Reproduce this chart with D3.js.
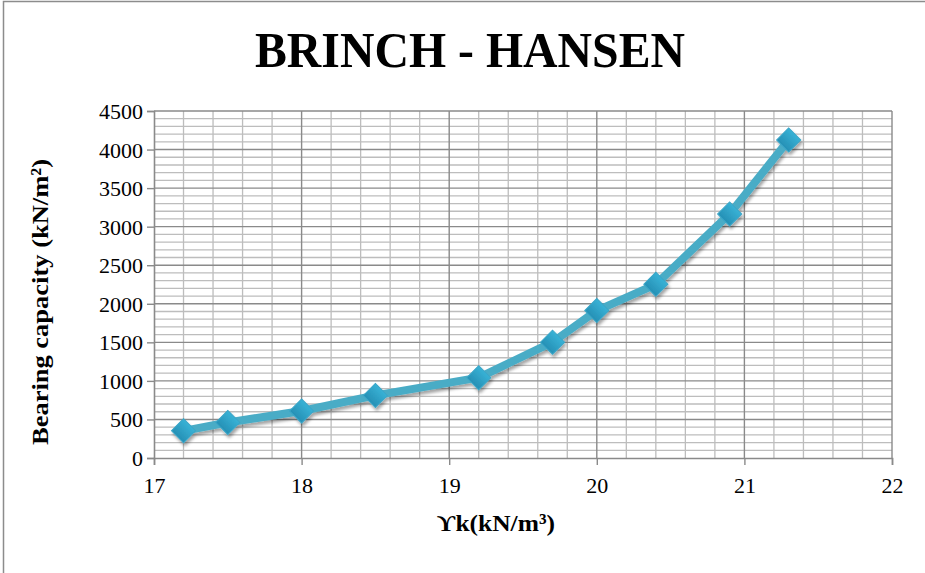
<!DOCTYPE html>
<html>
<head>
<meta charset="utf-8">
<script src="https://cdn.jsdelivr.net/npm/d3@7"></script>
<style>
  html, body { margin: 0; padding: 0; background: #fff; }
  svg { display: block; }
</style>
</head>
<body>
<svg id="chart" width="925" height="573"></svg>
<script>
// Unit weight (kN/m³) and bearing capacity (kN/m²), Brinch-Hansen method
const unitWeight = [17.2, 17.5, 18.0, 18.5, 19.2, 19.7, 20.0, 20.4, 20.9, 21.3];
const bearingCapacity = [352, 460, 610, 812, 1042, 1502, 1912, 2252, 3165, 4125];
const xTicks = [17, 18, 19, 20, 21, 22];
const yTicks = [0, 500, 1000, 1500, 2000, 2500, 3000, 3500, 4000, 4500];

const plot = { left: 154, right: 892, top: 111, bottom: 458 };

const svg = d3.select("#chart");
const serif = "'Liberation Serif', 'Times New Roman', 'DejaVu Serif', serif";

// outer chart frame
svg.append("rect")
  .attr("x", 3.5).attr("y", 1.5)
  .attr("width", 940).attr("height", 600)
  .attr("fill", "#fff").attr("stroke", "#8c8c8c").attr("stroke-width", 1.5);

const x = d3.scaleLinear().domain([17, 22]).range([plot.left, plot.right]);
const y = d3.scaleLinear().domain([0, 4500]).range([plot.bottom, plot.top]);

// minor gridlines
const g = svg.append("g");
g.selectAll("line.vminor")
  .data(d3.range(17, 22.001, 0.2).filter(v => Math.abs(v - Math.round(v)) > 1e-6))
  .join("line")
  .attr("x1", d => x(d)).attr("x2", d => x(d))
  .attr("y1", plot.top).attr("y2", plot.bottom)
  .attr("stroke", "#bdbdbd").attr("stroke-width", 1.3);
g.selectAll("line.hminor")
  .data(d3.range(100, 4500, 100).filter(v => v % 500 !== 0))
  .join("line")
  .attr("x1", plot.left).attr("x2", plot.right)
  .attr("y1", d => y(d)).attr("y2", d => y(d))
  .attr("stroke", "#bdbdbd").attr("stroke-width", 1.3);

// major gridlines
g.selectAll("line.vmajor")
  .data(xTicks.slice(1))
  .join("line")
  .attr("x1", d => x(d)).attr("x2", d => x(d))
  .attr("y1", plot.top).attr("y2", plot.bottom)
  .attr("stroke", "#8a8a8a").attr("stroke-width", 1.4);
g.selectAll("line.hmajor")
  .data(yTicks.slice(1))
  .join("line")
  .attr("x1", plot.left).attr("x2", plot.right)
  .attr("y1", d => y(d)).attr("y2", d => y(d))
  .attr("stroke", "#8a8a8a").attr("stroke-width", 1.4);

// axes
const xAxis = svg.append("g")
  .attr("transform", `translate(0,${plot.bottom})`)
  .call(d3.axisBottom(x).tickValues(xTicks).tickSize(7).tickPadding(12).tickFormat(d3.format("d")));
const yAxis = svg.append("g")
  .attr("transform", `translate(${plot.left},0)`)
  .call(d3.axisLeft(y).tickValues(yTicks).tickSize(7).tickPadding(4).tickFormat(d3.format("d")));

[xAxis, yAxis].forEach(a => {
  a.select(".domain").attr("stroke", "#8a8a8a").attr("stroke-width", 1.6);
  a.selectAll(".tick line").attr("stroke", "#8a8a8a").attr("stroke-width", 1.4);
  a.selectAll(".tick text")
    .attr("fill", "#000")
    .style("font-family", serif)
    .style("font-size", "22px");
});
xAxis.selectAll(".tick text").attr("dy", "0.72em");
yAxis.selectAll(".tick text").attr("dy", "0.34em");

// series shadow
const defs = svg.append("defs");
const f = defs.append("filter").attr("id", "shadow")
  .attr("x", "-10%").attr("y", "-10%").attr("width", "130%").attr("height", "130%");
f.append("feDropShadow").attr("dx", 1.5).attr("dy", 3).attr("stdDeviation", 1.8)
  .attr("flood-color", "#000").attr("flood-opacity", 0.35);

const grad = defs.append("linearGradient").attr("id", "markerFill")
  .attr("x1", 0).attr("y1", 0).attr("x2", 0).attr("y2", 1);
grad.append("stop").attr("offset", "0%").attr("stop-color", "#38b2d6");
grad.append("stop").attr("offset", "100%").attr("stop-color", "#2690b5");

const data = unitWeight.map((u, i) => ({ u, q: bearingCapacity[i] }));
const series = svg.append("g").attr("filter", "url(#shadow)");

series.append("path")
  .datum(data)
  .attr("d", d3.line().x(d => x(d.u)).y(d => y(d.q)))
  .attr("fill", "none")
  .attr("stroke", "#4aacc6")
  .attr("stroke-width", 8)
  .attr("stroke-linejoin", "round");

series.selectAll("path.marker")
  .data(data)
  .join("path")
  .attr("class", "marker")
  .attr("d", d3.symbol().type(d3.symbolSquare).size(290))
  .attr("transform", d => `translate(${x(d.u)},${y(d.q)}) rotate(45)`)
  .attr("fill", "url(#markerFill)")
  .attr("stroke", "#3aa6c8").attr("stroke-width", 1);

// title
svg.append("text")
  .attr("x", 470).attr("y", 67)
  .attr("text-anchor", "middle")
  .attr("textLength", 430)
  .attr("lengthAdjust", "spacingAndGlyphs")
  .style("font-family", serif)
  .style("font-weight", "bold")
  .style("font-size", "50px")
  .attr("fill", "#000")
  .text("BRINCH - HANSEN");

// axis titles
svg.append("text")
  .attr("transform", "translate(48,302) rotate(-90)")
  .attr("text-anchor", "middle")
  .attr("textLength", 286)
  .attr("lengthAdjust", "spacingAndGlyphs")
  .style("font-family", serif)
  .style("font-weight", "bold")
  .style("font-size", "24px")
  .attr("fill", "#000")
  .text("Bearing capacity (kN/m²)");

svg.append("text")
  .attr("x", 496).attr("y", 531)
  .attr("text-anchor", "middle")
  .attr("textLength", 118)
  .attr("lengthAdjust", "spacingAndGlyphs")
  .style("font-family", serif)
  .style("font-weight", "bold")
  .style("font-size", "24px")
  .attr("fill", "#000")
  .text("ϒk(kN/m³)");
</script>
</body>
</html>
